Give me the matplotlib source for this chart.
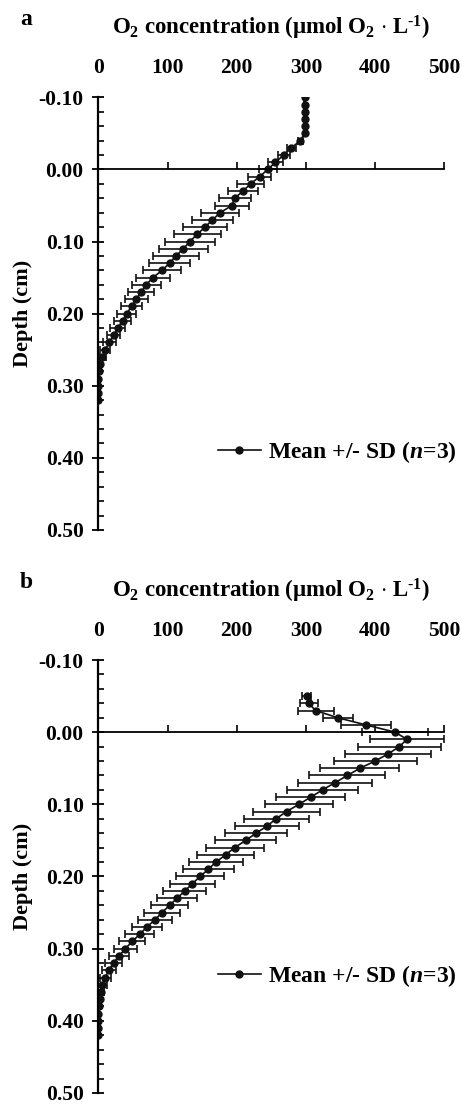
import matplotlib
matplotlib.use('Agg')
import matplotlib.pyplot as plt
from matplotlib.ticker import MultipleLocator, FormatStrFormatter

plt.rcParams['font.family'] = ['Liberation Serif', 'DejaVu Serif']
plt.rcParams['font.weight'] = 'bold'
plt.rcParams['mathtext.fontset'] = 'custom'
plt.rcParams['mathtext.rm'] = 'Liberation Serif:bold'
plt.rcParams['mathtext.bf'] = 'Liberation Serif:bold'
plt.rcParams['mathtext.it'] = 'Liberation Serif:bold:italic'
plt.rcParams['axes.unicode_minus'] = False

# panel a: depth (cm), mean O2 and SD (umol/L)
depth_a = [-0.10, -0.09, -0.08, -0.07, -0.06, -0.05, -0.04, -0.03, -0.02, -0.01,
           0.00, 0.01, 0.02, 0.03, 0.04, 0.05, 0.06, 0.07, 0.08, 0.09,
           0.10, 0.11, 0.12, 0.13, 0.14, 0.15, 0.16, 0.17, 0.18, 0.19,
           0.20, 0.21, 0.22, 0.23, 0.24, 0.25, 0.26, 0.27, 0.28, 0.29,
           0.30, 0.31, 0.32]
mean_a = [298, 298, 298, 298, 298, 298, 292, 279, 268, 256,
          245, 233, 220, 209, 197, 193, 176, 165, 154, 143,
          132, 123, 112, 103, 92, 79, 69, 62, 55, 48,
          41, 35, 28, 22, 16, 10, 6, 3, 1, 0,
          0, 0, 0]
sd_a = [1, 1, 1, 1, 1, 1, 4, 7, 9, 11,
        13, 16, 20, 22, 23, 25, 28, 30, 32, 34,
        36, 35, 33, 30, 27, 24, 21, 19, 17, 15,
        14, 12, 11, 10, 9, 7, 5, 3, 2, 1,
        1, 1, 1]

# panel b
depth_b = [-0.05, -0.04, -0.03, -0.02, -0.01,
           0.00, 0.01, 0.02, 0.03, 0.04, 0.05, 0.06, 0.07, 0.08, 0.09,
           0.10, 0.11, 0.12, 0.13, 0.14, 0.15, 0.16, 0.17, 0.18, 0.19,
           0.20, 0.21, 0.22, 0.23, 0.24, 0.25, 0.26, 0.27, 0.28, 0.29,
           0.30, 0.31, 0.32, 0.33, 0.34, 0.35, 0.36, 0.37, 0.38, 0.39,
           0.40, 0.41, 0.42]
mean_b = [301, 304, 314, 346, 387,
          429, 446, 435, 419, 400, 378, 360, 342, 324, 307,
          290, 272, 257, 244, 228, 213, 197, 184, 170, 159,
          147, 136, 125, 114, 103, 92, 82, 70, 60, 49,
          39, 30, 22, 15, 10, 6, 4, 2, 1, 0,
          0, 0, 0]
sd_b = [6, 13, 26, 22, 36,
        48, 54, 60, 62, 60, 57, 55, 53, 51, 50,
        49, 48, 47, 46, 45, 44, 42, 41, 39, 37,
        35, 33, 31, 29, 27, 26, 24, 22, 21, 19,
        17, 15, 12, 10, 8, 6, 4, 3, 2, 1,
        1, 1, 1]

x_ticks = [0, 100, 200, 300, 400, 500]
title = r'O$_{2}$ concentration ($\mathrm{\mu}$mol O$_{2}$ $\cdot$ L$^{\text{-}1}$)'
legend_label = 'Mean +/- SD ($n$=3)'


def draw_profile(ax, depth, mean, sd, legend_y):
    eb = ax.errorbar(mean, depth, xerr=sd, fmt='-o', color='#111111', ms=5, lw=1.2,
                     elinewidth=1.2, capsize=3, capthick=1.2)
    ax.set_xlim(0, 500)
    ax.set_ylim(0.50, -0.10)
    ax.set_xticks(x_ticks)

    for s in ['top', 'right']:
        ax.spines[s].set_visible(False)
    ax.spines['bottom'].set_position(('data', 0))
    ax.spines['bottom'].set_linewidth(1.3)
    ax.spines['left'].set_linewidth(1.6)

    ax.tick_params(axis='x', bottom=True, top=False, labelbottom=False, labeltop=True,
                   direction='in', length=5, width=1.2, pad=14, labelsize=15.5)
    ax.yaxis.set_major_locator(MultipleLocator(0.1))
    ax.yaxis.set_minor_locator(MultipleLocator(0.02))
    ax.yaxis.set_major_formatter(FormatStrFormatter('%.2f'))
    ax.tick_params(axis='y', which='major', direction='inout', length=9, width=1.3,
                   labelsize=15.5, pad=6)
    ax.tick_params(axis='y', which='minor', direction='in', length=4.5, width=1.2)

    ax.set_ylabel('Depth (cm)', fontsize=16, fontweight='bold')
    ax.yaxis.set_label_coords(-0.19, 0.5)
    ax.text(0.5, 1.16, title, transform=ax.transAxes, ha='center', va='center',
            fontsize=16.5, fontweight='bold')

    # legend shows only the line + marker, as in the original
    ax.legend([eb.lines[0]], [legend_label], loc='center right',
              bbox_to_anchor=(1.035, legend_y), frameon=False, fontsize=17,
              handlelength=1.8, handletextpad=0.3, borderpad=0, borderaxespad=0)


fig = plt.figure(figsize=(4.62, 11.05), dpi=100)
ax_a = fig.add_axes([0.2128, 0.5204, 0.7489, 0.3915])
ax_b = fig.add_axes([0.2128, 0.0109, 0.7489, 0.3918])

draw_profile(ax_a, depth_a, mean_a, sd_a, 0.18)
draw_profile(ax_b, depth_b, mean_b, sd_b, 0.27)

fig.text(0.043, 0.982, 'a', fontsize=17, fontweight='bold', va='center')
fig.text(0.043, 0.4724, 'b', fontsize=17, fontweight='bold', va='center')

fig.savefig('out.png', dpi=100)
